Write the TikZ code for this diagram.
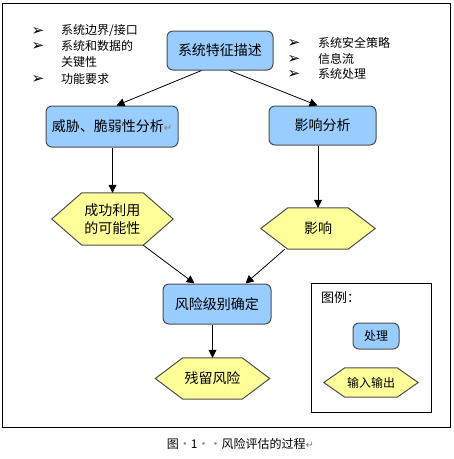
\documentclass[tikz,border=0pt]{standalone}
\usepackage{fontspec}
\setmainfont{Liberation Sans}
\newfontfamily\cjk{Noto Sans CJK SC}
\newfontfamily\symf{DejaVu Sans}
\usetikzlibrary{arrows.meta,backgrounds}
\definecolor{boxblue}{HTML}{99CCFF}
\definecolor{hexyellow}{HTML}{FFFF99}
\definecolor{edgegray}{HTML}{4D4D4D}
\newcommand\mkhex[2]{\begin{scope}[on background layer]\draw[hexshape] (#1.north west) -- (#1.north east) -- ([xshift=#2pt]#1.east) -- (#1.south east) -- (#1.south west) -- ([xshift=-#2pt]#1.west) -- cycle;\end{scope}}
\newcommand\retmark{{\symf\color{gray}\fontsize{10}{12}\selectfont ↵}}
\tikzset{
  proc/.style={draw=edgegray, line width=1pt, fill=boxblue, rounded corners=6pt,
    font=\cjk\fontsize{14}{16}\selectfont, inner sep=0pt},
  hexnode/.style={inner sep=0pt, align=center, font=\cjk\fontsize{14}{18}\selectfont},
  hexshape/.style={draw=edgegray, line width=1pt, fill=hexyellow},
  flow/.style={-{Triangle[length=8pt,width=8pt]}, line width=0.8pt},
  bul/.style={font=\symf\fontsize{15}{17}\selectfont, inner sep=0pt},
  bultext/.style={font=\cjk\fontsize{12}{14}\selectfont, anchor=west, inner sep=0pt},
  small/.style={font=\cjk\fontsize{12}{14}\selectfont, inner sep=0pt},
}
\begin{document}
\begin{tikzpicture}[x=1pt,y=-1pt]
\useasboundingbox (0,0) rectangle (454,459);
\draw[line width=1pt] (2.7,3) rectangle (450.3,427.7);

% process boxes
\node[proc, minimum width=106pt, minimum height=39pt] (top) at (220,50.5) {系统特征描述};
\node[proc, minimum width=132pt, minimum height=41pt] (thr) at (112,126.5) {威胁、脆弱性分析\retmark};
\node[proc, minimum width=107pt, minimum height=39pt] (imp) at (322.5,125.5) {影响分析};
\node[proc, minimum width=108pt, minimum height=40pt] (risk) at (217,304) {风险级别确定};

% hexagons
\node[hexnode, minimum width=61pt, minimum height=52pt] (h1) at (112.5,219) {成功利用\\的可能性};
\mkhex{h1}{30}
\node[hexnode, minimum width=60pt, minimum height=41pt] (h2) at (318,228.5) {影响};
\mkhex{h2}{27}
\node[hexnode, minimum width=59pt, minimum height=41pt] (h3) at (212.5,378.5) {残留风险};
\mkhex{h3}{27.5}

% bullets left
\node[bul] (bl1) at (38,31) {➢};
\node[bultext] (tl1) at (61,31) {系统边界/接口};
\node[bul] (bl2) at (38,46) {➢};
\node[bultext] (tl2) at (61,46) {系统和数据的};
\node[bultext] (tl3) at (61,62) {关键性};
\node[bul] (bl4) at (38,79) {➢};
\node[bultext] (tl4) at (61,79) {功能要求};
% bullets right
\node[bul] (br1) at (294,43) {➢};
\node[bultext] (tr1) at (318,43) {系统安全策略};
\node[bul] (br2) at (294,59) {➢};
\node[bultext] (tr2) at (318,59) {信息流};
\node[bul] (br3) at (294,74) {➢};
\node[bultext] (tr3) at (318,74) {系统处理};

% connectors
\draw[flow] ([xshift=35pt]top.south west) -- ([xshift=71pt]thr.north west);
\draw[flow] ([xshift=-44pt]top.south east) -- ([xshift=49pt]imp.north west);
\draw[flow] (h1.north |- thr.south) -- (h1.north);
\draw[flow] (h2.north |- imp.south) -- (h2.north);
\draw[flow] (h1.south east) -- ([xshift=32pt]risk.north west);
\draw[flow] ([xshift=-3pt]h2.south west) -- ([xshift=-26pt]risk.north east);
\draw[flow] (h3.north |- risk.south) -- (h3.north);

% legend
\node[draw, line width=1pt, minimum width=120pt, minimum height=129pt, inner sep=0pt] (leg) at (371,347.5) {};
\node[small, anchor=west, font=\cjk\fontsize{13}{15}\selectfont] (legt) at (321,298) {图例：};
\node[proc, minimum width=46pt, minimum height=26pt, font=\cjk\fontsize{12}{14}\selectfont] (lproc) at (376,336) {处理};
\node[hexnode, minimum width=52pt, minimum height=29pt, font=\cjk\fontsize{12}{14}\selectfont] (lhex) at (371,382.5) {输入输出};
\mkhex{lhex}{21}

% caption
\node[small] (cap) at (240.5,444) {图{\color{gray}·}1{\color{gray}··}风险评估的过程\retmark};
\end{tikzpicture}
\end{document}
